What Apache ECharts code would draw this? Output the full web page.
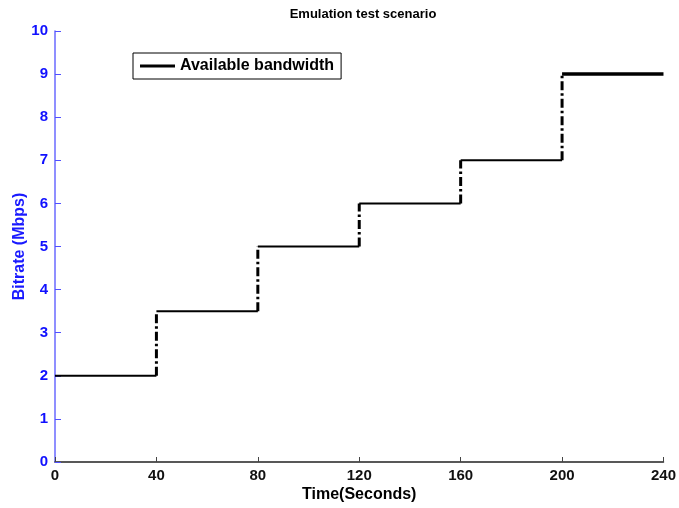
<!DOCTYPE html>
<html>
<head>
<meta charset="utf-8">
<script src="https://cdn.jsdelivr.net/npm/echarts@6/dist/echarts.min.js"></script>
<style>
  html, body { margin: 0; padding: 0; background: #fff; }
  #chart { width: 679px; height: 508px; }
</style>
</head>
<body>
<div id="chart"></div>
<script>
// Step boundaries (seconds) and the bandwidth level held within each step (Mbps)
const stepTimes = [0, 40, 80, 120, 160, 200, 240];
const stepLevels = [2, 3.5, 5, 6, 7, 9];
const xTicks = [0, 40, 80, 120, 160, 200, 240];
const yTicks = [0, 1, 2, 3, 4, 5, 6, 7, 8, 9, 10];

const FONT = 'Liberation Sans, Arial, sans-serif';
const seriesName = 'Available bandwidth';

const series = [];
// flat parts of the staircase: solid
for (let i = 0; i < stepLevels.length; i++) {
  series.push({
    name: seriesName,
    type: 'line',
    symbol: 'none',
    silent: true,
    lineStyle: { color: '#000', width: i === stepLevels.length - 1 ? 3.5 : 2, type: 'solid' },
    data: [[stepTimes[i], stepLevels[i]], [stepTimes[i + 1], stepLevels[i]]]
  });
}
// rising edges between steps: dash-dot
for (let i = 1; i < stepLevels.length; i++) {
  series.push({
    name: 'edge' + i,
    type: 'line',
    symbol: 'none',
    silent: true,
    lineStyle: { color: '#000', width: 3, type: [9, 3, 2.5, 3] },
    data: [[stepTimes[i], stepLevels[i - 1]], [stepTimes[i], stepLevels[i]]]
  });
}

const chart = echarts.init(document.getElementById('chart'), null, { renderer: 'canvas' });
chart.setOption({
  animation: false,
  backgroundColor: '#fff',
  title: {
    text: 'Emulation test scenario',
    left: 358,
    textAlign: 'center',
    top: 3,
    textStyle: { fontFamily: FONT, fontSize: 13, fontWeight: 'bold', color: '#000' }
  },
  legend: {
    data: [seriesName],
    left: 133,
    top: 53,
    orient: 'vertical',
    backgroundColor: '#fff',
    borderColor: '#000',
    borderWidth: 1,
    borderRadius: 0,
    padding: [5, 7, 5, 7],
    itemWidth: 35,
    itemHeight: 16,
    itemGap: 0,
    icon: 'path://M0,6.5 L35,6.5 L35,9.5 L0,9.5 Z',
    itemStyle: { color: '#000' },
    textStyle: { fontFamily: FONT, fontSize: 16, fontWeight: 'bold', color: '#000' }
  },
  grid: { left: 55, right: 14, top: 31, bottom: 45, containLabel: false },
  xAxis: {
    type: 'value',
    min: xTicks[0],
    max: xTicks[xTicks.length - 1],
    interval: 40,
    name: 'Time(Seconds)',
    nameLocation: 'middle',
    nameGap: 25,
    nameMoveOverlap: false,
    nameTextStyle: { fontFamily: FONT, fontSize: 16, fontWeight: 'bold', color: '#000' },
    axisLine: { show: true, lineStyle: { color: '#222', width: 1.5 } },
    axisTick: { show: true, inside: true, length: 5, lineStyle: { color: '#444' } },
    axisLabel: { fontFamily: FONT, fontSize: 15, fontWeight: 'bold', color: '#111', margin: 6 },
    splitLine: { show: false }
  },
  yAxis: {
    type: 'value',
    min: yTicks[0],
    max: yTicks[yTicks.length - 1],
    interval: 1,
    name: 'Bitrate (Mbps)',
    nameLocation: 'middle',
    nameGap: 27,
    nameMoveOverlap: false,
    nameTextStyle: { fontFamily: FONT, fontSize: 16, fontWeight: 'bold', color: '#1a1aff' },
    axisLine: { show: true, lineStyle: { color: '#6a6aff', width: 1.5 } },
    axisTick: { show: true, inside: true, length: 6, lineStyle: { color: '#5050ff' } },
    axisLabel: { fontFamily: FONT, fontSize: 15, fontWeight: 'bold', color: '#1010ff', margin: 7 },
    splitLine: { show: false }
  },
  series: series
});
</script>
</body>
</html>
